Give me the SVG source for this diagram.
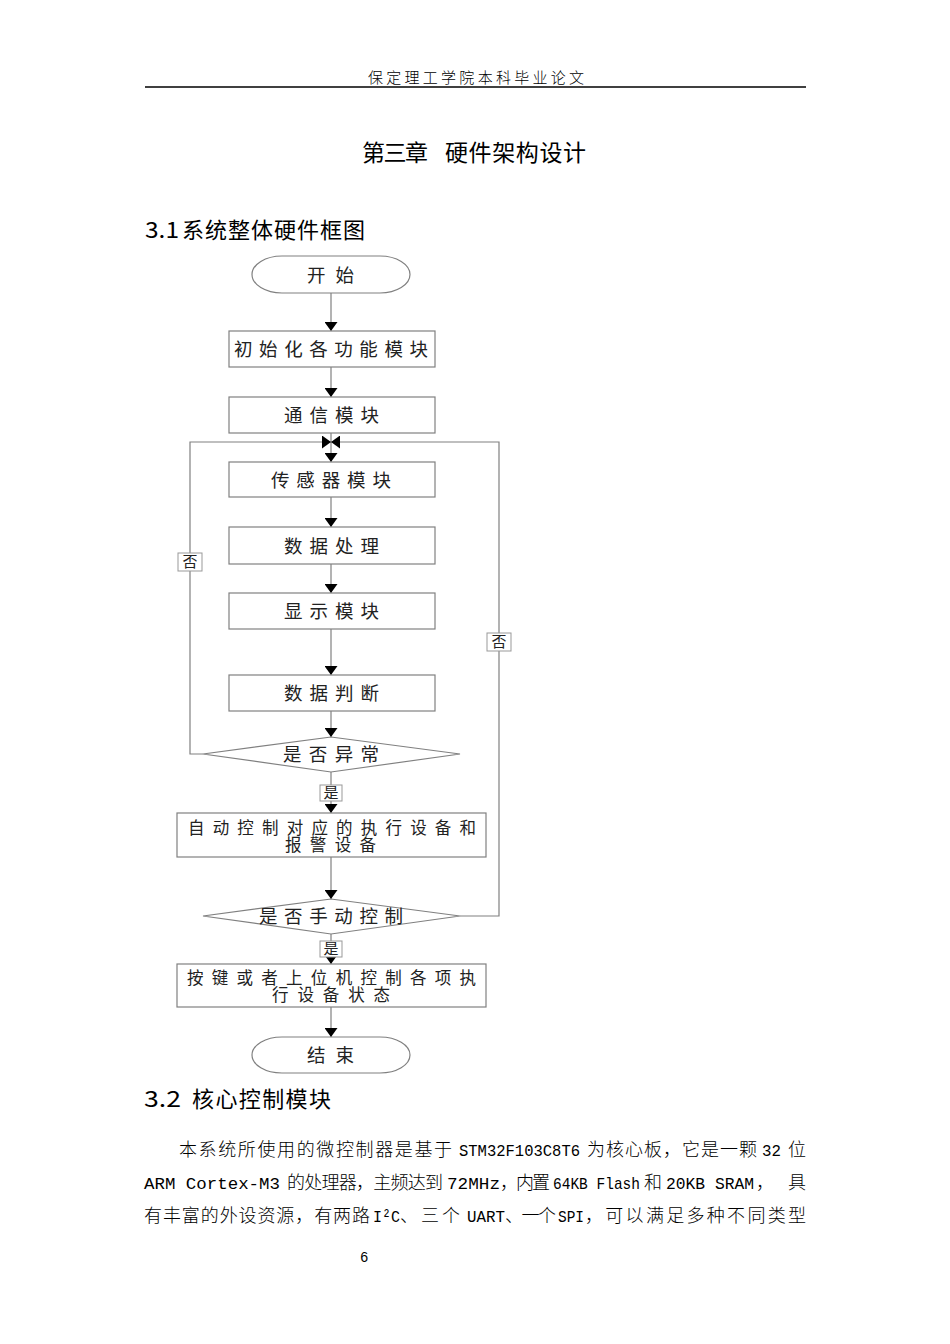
<svg xmlns="http://www.w3.org/2000/svg" width="950" height="1344" viewBox="0 0 950 1344">
<style>
.cjk{font-family:'Noto Sans CJK SC',sans-serif;fill:#000}
.mono{font-family:'Liberation Mono',monospace;fill:#000}
.fc{font-family:'Noto Sans CJK SC',sans-serif;font-size:18.5px;fill:#222;font-weight:400}
.fc2{font-family:'Noto Sans CJK SC',sans-serif;font-size:16.5px;fill:#222;font-weight:400}
.box{fill:#fff;stroke:#808080;stroke-width:1.2}
.conn{fill:none;stroke:#808080;stroke-width:1.2}
.tag{fill:#fff;stroke:#999;stroke-width:1}
.tagt{font-family:'Noto Sans CJK SC',sans-serif;font-size:15px;fill:#222;text-anchor:middle;font-weight:400}
.bc{font-size:18px;font-weight:300}
.bl{font-size:17px}
</style>
<defs>
<marker id="arr" markerWidth="9" markerHeight="13" refX="9" refY="6.5" orient="auto" markerUnits="userSpaceOnUse">
<path d="M0,0 L9,6.5 L0,13 z" fill="#000"/>
</marker>
</defs>
<rect width="950" height="1344" fill="#fff"/>

<g id="header">
<text class="cjk" x="368" y="83" font-size="15" font-weight="300" textLength="216" lengthAdjust="spacing" fill="#222">保定理工学院本科毕业论文</text>
<line x1="145" y1="87" x2="806" y2="87" stroke="#000" stroke-width="1.6"/>
</g>

<g id="title">
<text class="cjk" x="362" y="161" font-size="23" textLength="66" lengthAdjust="spacing">第三章</text>
<text class="cjk" x="445" y="161" font-size="23" textLength="141" lengthAdjust="spacing">硬件架构设计</text>
</g>

<g id="heading31">
<text class="cjk" x="145" y="238" font-size="22" textLength="34" lengthAdjust="spacingAndGlyphs">3.1</text>
<text class="cjk" x="182" y="238" font-size="22" textLength="183" lengthAdjust="spacing">系统整体硬件框图</text>
</g>

<g id="connectors">
<path class="conn" d="M331,293 V331" marker-end="url(#arr)"/>
<path class="conn" d="M331,367 V397" marker-end="url(#arr)"/>
<path class="conn" d="M331,433 V462" marker-end="url(#arr)"/>
<path class="conn" d="M331,497 V527" marker-end="url(#arr)"/>
<path class="conn" d="M331,564 V593" marker-end="url(#arr)"/>
<path class="conn" d="M331,629 V675" marker-end="url(#arr)"/>
<path class="conn" d="M331,711 V737" marker-end="url(#arr)"/>
<path class="conn" d="M331,772 V813" marker-end="url(#arr)"/>
<path class="conn" d="M203,754 H190 V442 H331" marker-end="url(#arr)"/>
<path class="conn" d="M331,857 V899" marker-end="url(#arr)"/>
<path class="conn" d="M460,916 H499 V442 H331" marker-end="url(#arr)"/>
<path class="conn" d="M331,934 V964" marker-end="url(#arr)"/>
<path class="conn" d="M331,1007 V1037" marker-end="url(#arr)"/>
<g id="label-no-left"><rect class="tag" x="178" y="553" width="24" height="18"/><text class="tagt" x="190" y="567">否</text></g>
<g id="label-no-right"><rect class="tag" x="487" y="633" width="24" height="18"/><text class="tagt" x="499" y="647">否</text></g>
<g id="label-yes-1"><rect class="tag" x="320" y="785" width="22" height="16"/><text class="tagt" x="331" y="798">是</text></g>
<g id="label-yes-2"><rect class="tag" x="320" y="941" width="22" height="16"/><text class="tagt" x="331" y="954">是</text></g>
</g>

<g id="start">
<rect class="box" x="252" y="256" width="158" height="37" rx="30" ry="18.5"/>
<text class="fc" x="307" y="281.5" textLength="47" lengthAdjust="spacing">开始</text>
</g>
<g id="init">
<rect class="box" x="229" y="331" width="206" height="36"/>
<text class="fc" x="234" y="356" textLength="194" lengthAdjust="spacing">初始化各功能模块</text>
</g>
<g id="comm">
<rect class="box" x="229" y="397" width="206" height="36"/>
<text class="fc" x="284" y="422" textLength="95" lengthAdjust="spacing">通信模块</text>
</g>
<g id="sensor">
<rect class="box" x="229" y="462" width="206" height="35"/>
<text class="fc" x="271" y="486.5" textLength="120" lengthAdjust="spacing">传感器模块</text>
</g>
<g id="process">
<rect class="box" x="229" y="527" width="206" height="37"/>
<text class="fc" x="284" y="552.5" textLength="95" lengthAdjust="spacing">数据处理</text>
</g>
<g id="display">
<rect class="box" x="229" y="593" width="206" height="36"/>
<text class="fc" x="284" y="617.5" textLength="95" lengthAdjust="spacing">显示模块</text>
</g>
<g id="judge">
<rect class="box" x="229" y="675" width="206" height="36"/>
<text class="fc" x="284" y="699.5" textLength="95" lengthAdjust="spacing">数据判断</text>
</g>
<g id="abnormal">
<polygon class="box" points="331,737 460,754 331,772 203,754"/>
<text class="fc" x="283" y="760.5" textLength="96" lengthAdjust="spacing">是否异常</text>
</g>
<g id="auto">
<rect class="box" x="177" y="813" width="309" height="44"/>
<text class="fc2" x="188" y="834" textLength="288" lengthAdjust="spacing">自动控制对应的执行设备和</text>
<text class="fc2" x="285" y="851" textLength="91" lengthAdjust="spacing">报警设备</text>
</g>
<g id="manual">
<polygon class="box" points="331,899 460,916 331,934 203,916"/>
<text class="fc" x="259" y="922.5" textLength="144" lengthAdjust="spacing">是否手动控制</text>
</g>
<g id="keys">
<rect class="box" x="177" y="964" width="309" height="43"/>
<text class="fc2" x="187" y="983.5" textLength="289" lengthAdjust="spacing">按键或者上位机控制各项执</text>
<text class="fc2" x="272" y="1000.5" textLength="118" lengthAdjust="spacing">行设备状态</text>
</g>
<g id="end">
<rect class="box" x="252" y="1037" width="158" height="36" rx="30" ry="18"/>
<text class="fc" x="307" y="1061.5" textLength="47" lengthAdjust="spacing">结束</text>
</g>

<g id="heading32">
<text class="cjk" x="144" y="1107" font-size="22" textLength="37" lengthAdjust="spacingAndGlyphs">3.2</text>
<text class="cjk" x="192" y="1107" font-size="22" textLength="139" lengthAdjust="spacing">核心控制模块</text>
</g>

<g id="body">
<text class="cjk bc" x="179" y="1156" textLength="273" lengthAdjust="spacing">本系统所使用的微控制器是基于</text>
<text class="mono bl" x="459" y="1156" textLength="121" lengthAdjust="spacingAndGlyphs">STM32F103C8T6</text>
<text class="cjk bc" x="587" y="1156" textLength="170" lengthAdjust="spacing">为核心板，它是一颗</text>
<text class="mono bl" x="762" y="1156" textLength="19" lengthAdjust="spacingAndGlyphs">32</text>
<text class="cjk bc" x="788" y="1156">位</text>

<text class="mono bl" x="144" y="1189" textLength="136" lengthAdjust="spacingAndGlyphs">ARM Cortex-M3</text>
<text class="cjk bc" x="287" y="1189" textLength="156" lengthAdjust="spacing">的处理器，主频达到</text>
<text class="mono bl" x="447" y="1189" textLength="53" lengthAdjust="spacingAndGlyphs">72MHz</text>
<text class="cjk bc" x="500" y="1189" textLength="50" lengthAdjust="spacing">，内置</text>
<text class="mono bl" x="553" y="1189" textLength="87" lengthAdjust="spacingAndGlyphs">64KB Flash</text>
<text class="cjk bc" x="644" y="1189">和</text>
<text class="mono bl" x="666" y="1189" textLength="88" lengthAdjust="spacingAndGlyphs">20KB SRAM</text>
<text class="cjk bc" x="756" y="1189">，</text>
<text class="cjk bc" x="788" y="1189">具</text>

<text class="cjk bc" x="144" y="1222" textLength="226" lengthAdjust="spacing">有丰富的外设资源，有两路</text>
<text class="mono bl" x="373" y="1222" textLength="27" lengthAdjust="spacingAndGlyphs">I²C</text>
<text class="cjk bc" x="400" y="1222" textLength="60" lengthAdjust="spacing">、三个</text>
<text class="mono bl" x="467" y="1222" textLength="38" lengthAdjust="spacingAndGlyphs">UART</text>
<text class="cjk bc" x="505" y="1222" textLength="51" lengthAdjust="spacing">、一个</text>
<text class="mono bl" x="558" y="1222" textLength="26" lengthAdjust="spacingAndGlyphs">SPI</text>
<text class="cjk bc" x="585" y="1222" textLength="221" lengthAdjust="spacing">，可以满足多种不同类型</text>
</g>

<g id="page-number">
<text class="mono" x="360" y="1262" font-size="14">6</text>
</g>
</svg>
